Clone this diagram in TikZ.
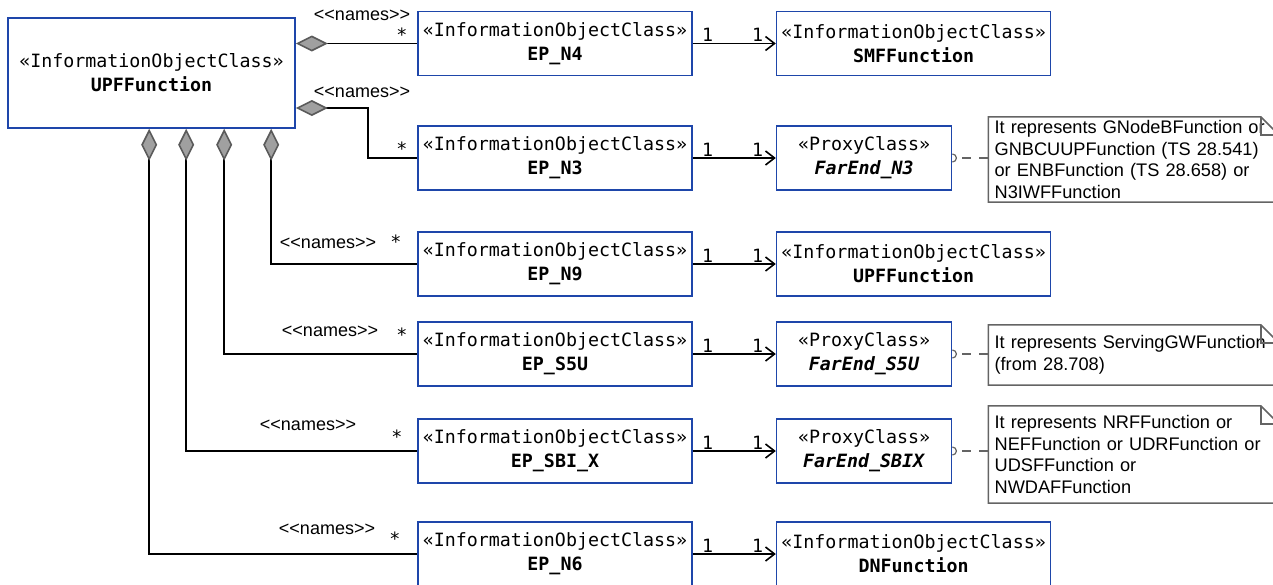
\documentclass[tikz,border=0pt]{standalone}
\usepackage{fontspec}
\setmonofont{DejaVu Sans Mono}
\newfontfamily\notefont{Liberation Sans}
\usetikzlibrary{arrows.meta, positioning}

\definecolor{iocblue}{RGB}{30,70,170}
\definecolor{diafill}{RGB}{160,160,160}
\definecolor{diadraw}{RGB}{90,90,90}
\definecolor{notegray}{RGB}{100,100,100}

\begin{document}
\begin{tikzpicture}[x=1pt, y=1pt, node distance=83pt, auto,
    ioc/.style={draw=iocblue, line width=1.6pt, fill=white, minimum width=274pt,
        minimum height=64pt, inner sep=2pt, align=center,
        font=\ttfamily\fontsize{18.3}{24}\selectfont},
    proxy/.style={ioc, minimum width=175pt},
    notebox/.style={text width=278pt, inner xsep=6pt, inner ysep=0pt, align=left,
        font=\notefont\fontsize{18.2}{21.5}\selectfont},
    noteline/.style={notegray, line width=1.5pt},
    comp/.style={{Diamond[length=32pt, width=16pt, fill=diafill, color=diadraw]}-, line width=1.6pt},
    nav/.style={-{Straight Barb[length=9pt, width=14pt]}, line width=1.6pt},
    names/.style={font=\notefont\fontsize{18}{20}\selectfont, inner sep=0pt},
    mult/.style={font=\ttfamily\fontsize{18.3}{20}\selectfont, inner sep=1pt},
    notelink/.style={notegray, line width=1.3pt, dash pattern=on 9pt off 8pt, dash phase=11pt}]
    \useasboundingbox (0,0) rectangle (1273,-584);
    \clip (0,0) rectangle (1273,-584);

    \node[ioc, minimum width=287pt, minimum height=110pt] (upf) at (151.5,-73)
        {«InformationObjectClass»\\\textbf{UPFFunction}};

    % end points
    \node[ioc] (ep_n4) at (555,-43.5) {«InformationObjectClass»\\\textbf{EP\_N4}};
    \node[ioc] (ep_n3) at (555,-158) {«InformationObjectClass»\\\textbf{EP\_N3}};
    \node[ioc] (ep_n9) at (555,-264) {«InformationObjectClass»\\\textbf{EP\_N9}};
    \node[ioc] (ep_s5u) at (555,-354) {«InformationObjectClass»\\\textbf{EP\_S5U}};
    \node[ioc] (ep_sbix) at (555,-451) {«InformationObjectClass»\\\textbf{EP\_SBI\_X}};
    \node[ioc] (ep_n6) at (555,-554) {«InformationObjectClass»\\\textbf{EP\_N6}};

    % far ends
    \node[ioc] [right=of ep_n4] (smf) {«InformationObjectClass»\\\textbf{SMFFunction}};
    \node[proxy] [right=of ep_n3] (far_n3) {«ProxyClass»\\\textbf{\textit{FarEnd\_N3}}};
    \node[ioc] [right=of ep_n9] (upf_far) {«InformationObjectClass»\\\textbf{UPFFunction}};
    \node[proxy] [right=of ep_s5u] (far_s5u) {«ProxyClass»\\\textbf{\textit{FarEnd\_S5U}}};
    \node[proxy] [right=of ep_sbix] (far_sbix) {«ProxyClass»\\\textbf{\textit{FarEnd\_SBIX}}};
    \node[ioc] [right=of ep_n6] (dn) {«InformationObjectClass»\\\textbf{DNFunction}};

    % notes
    \node[notebox, minimum height=85pt] [right=36pt of far_n3, yshift=-1.5pt] (note_n3)
        {It represents GNodeBFunction or\\GNBCUUPFunction (TS 28.541)\\or ENBFunction (TS 28.658) or\\N3IWFFunction};
    \node[notebox, minimum height=60pt] [right=36pt of far_s5u, yshift=-1pt] (note_s5u)
        {It represents ServingGWFunction\\(from 28.708)};
    \node[notebox, minimum height=97pt] [right=36pt of far_sbix, yshift=-3.5pt] (note_sbix)
        {It represents NRFFunction or\\NEFFunction or UDRFunction or\\UDSFFunction or\\NWDAFFunction};

    \draw[noteline] (note_n3.south west) -- (note_n3.north west) -- ([xshift=-18pt]note_n3.north east)
        -- ([yshift=-18pt]note_n3.north east) -- (note_n3.south east) -- cycle;
    \draw[noteline] ([xshift=-18pt]note_n3.north east) |- ([yshift=-18pt]note_n3.north east);
    \draw[noteline] (note_s5u.south west) -- (note_s5u.north west) -- ([xshift=-18pt]note_s5u.north east)
        -- ([yshift=-18pt]note_s5u.north east) -- (note_s5u.south east) -- cycle;
    \draw[noteline] ([xshift=-18pt]note_s5u.north east) |- ([yshift=-18pt]note_s5u.north east);
    \draw[noteline] (note_sbix.south west) -- (note_sbix.north west) -- ([xshift=-18pt]note_sbix.north east)
        -- ([yshift=-18pt]note_sbix.north east) -- (note_sbix.south east) -- cycle;
    \draw[noteline] ([xshift=-18pt]note_sbix.north east) |- ([yshift=-18pt]note_sbix.north east);

    % note links
    \draw[notegray, line width=1.2pt] ([yshift=4pt]far_n3.east) arc[start angle=90, end angle=-90, radius=4pt];
    \draw[notelink] ([xshift=4pt]far_n3.east) -- (note_n3.west |- far_n3.east);
    \draw[notegray, line width=1.2pt] ([yshift=4pt]far_s5u.east) arc[start angle=90, end angle=-90, radius=4pt];
    \draw[notelink] ([xshift=4pt]far_s5u.east) -- (note_s5u.west |- far_s5u.east);
    \draw[notegray, line width=1.2pt] ([yshift=4pt]far_sbix.east) arc[start angle=90, end angle=-90, radius=4pt];
    \draw[notelink] ([xshift=4pt]far_sbix.east) -- (note_sbix.west |- far_sbix.east);

    % composition
    \draw[comp] (upf.east |- ep_n4.west) -- (ep_n4.west);
    \draw[comp] ([yshift=-35pt]upf.east) -- ++(72,0) |- (ep_n3.west);
    \draw[comp] ([xshift=264pt]upf.south west) |- (ep_n9.west);
    \draw[comp] ([xshift=217pt]upf.south west) |- (ep_s5u.west);
    \draw[comp] ([xshift=179pt]upf.south west) |- (ep_sbix.west);
    \draw[comp] ([xshift=142pt]upf.south west) |- (ep_n6.west);

    \node[names] (nm_n4) at (362,-15) {<<names>>};
    \node[names] (nm_n3) at (362,-92) {<<names>>};
    \node[names] (nm_n9) at (328,-243) {<<names>>};
    \node[names] (nm_s5u) at (330,-331) {<<names>>};
    \node[names] (nm_sbix) at (308,-425) {<<names>>};
    \node[names] (nm_n6) at (327,-529) {<<names>>};
    \node[mult] (st_n4) at (402,-35) {*};
    \node[mult] (st_n3) at (402,-149) {*};
    \node[mult] (st_n9) at (396,-242) {*};
    \node[mult] (st_s5u) at (402,-335) {*};
    \node[mult] (st_sbix) at (397,-437) {*};
    \node[mult] (st_n6) at (395,-539) {*};

    % navigation
    \path[nav]
    (ep_n4) edge node[mult, pos=0.18] (a_n4) {1} node[mult, pos=0.78] (b_n4) {1} (smf)
    (ep_n3) edge node[mult, pos=0.18] (a_n3) {1} node[mult, pos=0.78] (b_n3) {1} (far_n3)
    (ep_n9) edge node[mult, pos=0.18] (a_n9) {1} node[mult, pos=0.78] (b_n9) {1} (upf_far)
    (ep_s5u) edge node[mult, pos=0.18] (a_s5u) {1} node[mult, pos=0.78] (b_s5u) {1} (far_s5u)
    (ep_sbix) edge node[mult, pos=0.18] (a_sbix) {1} node[mult, pos=0.78] (b_sbix) {1} (far_sbix)
    (ep_n6) edge node[mult, pos=0.18] (a_n6) {1} node[mult, pos=0.78] (b_n6) {1} (dn);
\end{tikzpicture}
\end{document}
